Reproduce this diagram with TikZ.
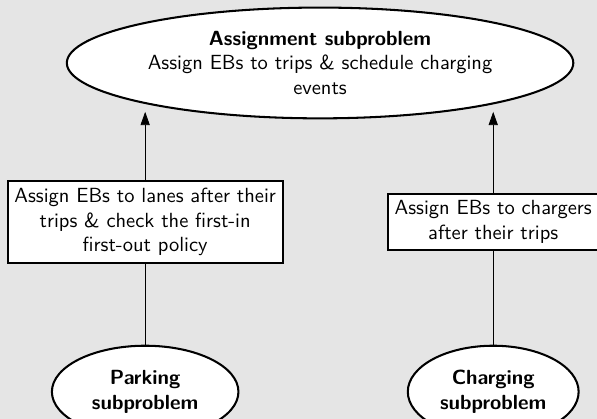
\documentclass[tikz,border=0pt]{standalone}
\usetikzlibrary{arrows.meta,positioning,shapes.geometric}
\tikzset{
  problem/.style={
      ellipse,
      draw=black,
      line width=1pt,
      fill=white,
      align=center
  },
  relation/.style={
      rectangle,
      draw=black,
      line width=1pt,
      fill=white,
      align=center
  }
}

\begin{document}
\begin{tikzpicture}[font=\sffamily,>={Triangle[length=6.5pt,width=4.5pt]}]
    \useasboundingbox (0,0) rectangle (10.24,7.18);
    \fill[black!10] (0,0) rectangle (10.24,7.18);
    \clip (0,0) rectangle (10.24,7.18);
    \node[problem,minimum width=8.6cm,minimum height=1.9cm] (assignment) at (5.49,6.10)
      {\textbf{Assignment subproblem}\\Assign EBs to trips \& schedule charging\\events};
    \node[relation] (lanes) at (2.49,3.37) {Assign EBs to lanes after their\\trips \& check the first-in\\first-out policy};
    \node[relation] (chargers) at (8.46,3.37) {Assign EBs to chargers\\after their trips};
    \node[problem,minimum width=3.2cm,minimum height=1.58cm] (parking) at (2.49,0.46) {\textbf{Parking}\\\textbf{subproblem}};
    \node[problem,minimum width=2.93cm,minimum height=1.58cm] (charging) at (8.46,0.46) {\textbf{Charging}\\\textbf{subproblem}};
    \draw (parking) -- (lanes);
    \draw (charging) -- (chargers);
    \draw[->,shorten >=4pt] (lanes) -- (lanes |- assignment.193);
    \draw[->,shorten >=4pt] (chargers) -- (chargers |- assignment.347);
\end{tikzpicture}
\end{document}
